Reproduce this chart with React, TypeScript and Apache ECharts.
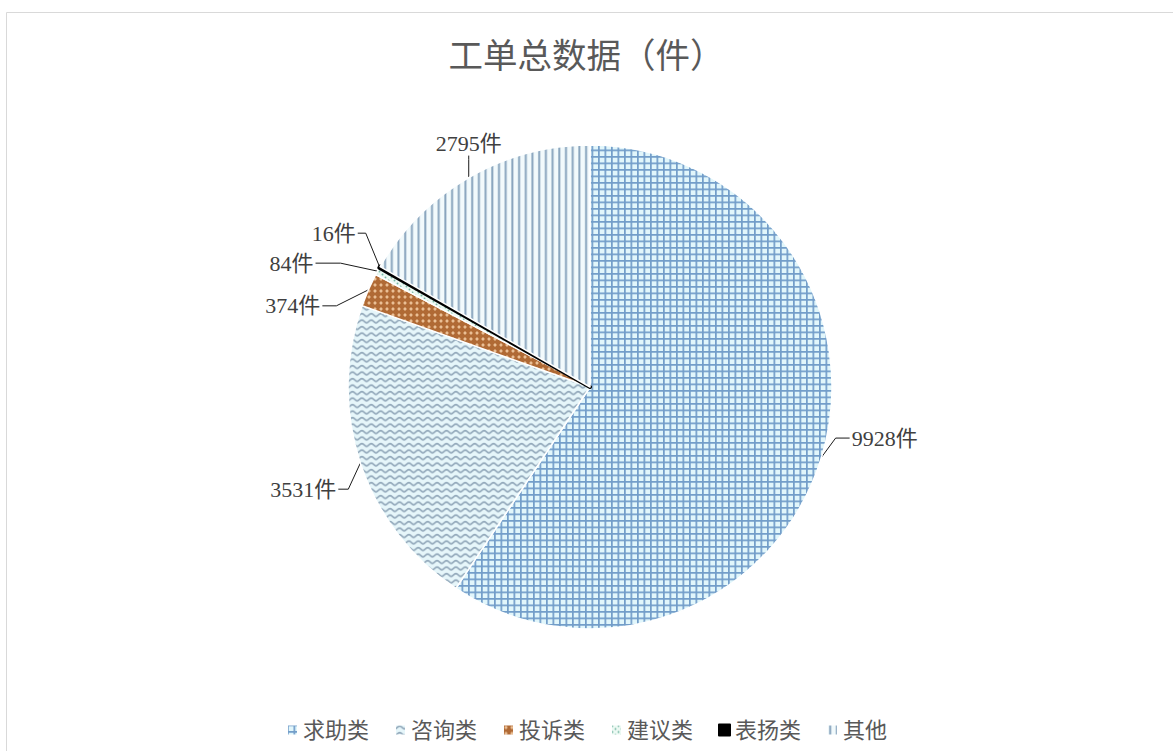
import React, { useEffect, useRef } from 'react';
import * as echarts from 'echarts';

const categories = ['求助类', '咨询类', '投诉类', '建议类', '表扬类', '其他'];
const values = [9928, 3531, 374, 84, 16, 2795];
const unit = '件';
const titleText = '工单总数据（件）';

const fontFamily = '"Liberation Serif", "Noto Sans CJK SC", serif';

const pieCenter = [590, 387];
const pieRadius = 242;

// label leader geometry: [elbowDx, elbowDy, endDx, endDy, side]
const labelGuides: [number, number, number, number, string][] = [
  [14, -19, 28, -19, 'right'],
  [-12, 26, -22, 26, 'left'],
  [-32, 16, -46, 16, 'left'],
  [-37, -8, -62, -8, 'left'],
  [-14, -34, -22, -34, 'left'],
  [0, -18, 0, -22, 'top'],
];

function tile(w: number, h: number, bg: string, inner: string) {
  const svg = `<svg xmlns="http://www.w3.org/2000/svg" width="${w}" height="${h}" viewBox="0 0 ${w} ${h}"><rect x="0" y="0" width="${w}" height="${h}" fill="${bg}"/>${inner}</svg>`;
  return {
    image: 'data:image/svg+xml;charset=utf-8,' + encodeURIComponent(svg),
    repeat: 'repeat',
    imageWidth: w,
    imageHeight: h,
  } as any;
}

const patterns = [
  // grid
  tile(6.5, 6.5, '#e1f6fb',
    '<rect x="0" y="0" width="1.7" height="6.5" fill="#729dc9"/><rect x="0" y="0" width="6.5" height="1.7" fill="#729dc9"/>'),
  // wave
  tile(9.4, 6.5, '#e6f6fa',
    '<path d="M-0.5 4.5 C1.8 4.5 2.4 1.6 4.7 1.6 C7 1.6 7.6 4.5 9.9 4.5" fill="none" stroke="#93a9bb" stroke-width="1.7"/>'),
  // diamond checker
  tile(6, 6, '#b06a35',
    '<polygon points="3,1.1 4.9,3 3,4.9 1.1,3" fill="#eabf95"/>'),
  // dots
  tile(6, 6, '#ecf9f3',
    '<circle cx="1.5" cy="1.5" r="0.95" fill="#77b8a5"/><circle cx="4.5" cy="4.5" r="0.95" fill="#77b8a5"/>'),
  '#000000',
  // vertical stripes
  tile(6.7, 6.7, '#f2fafc',
    '<rect x="2.2" y="0" width="2" height="6.7" fill="#88a4bd"/>'),
];

export default function App() {
  const ref = useRef<HTMLDivElement>(null);
  useEffect(() => {
    if (!ref.current) return;
    const chart = echarts.init(ref.current, null, { renderer: 'svg' });
    const total = values.reduce((a, b) => a + b, 0);
    const midAngles: number[] = [];
    let acc = 0;
    values.forEach((v) => {
      midAngles.push(((acc + v / 2) / total) * 2 * Math.PI);
      acc += v;
    });
    const data = categories.map((name, i) => ({
      name,
      value: values[i],
      itemStyle:
        i === 4
          ? { color: patterns[i], borderColor: '#000', borderWidth: 4 }
          : { color: patterns[i] },
    }));
    chart.setOption({
      animation: false,
      title: {
        text: titleText,
        left: 'center',
        top: 34,
        textStyle: { fontSize: 34.5, fontWeight: 'normal', color: '#595959', fontFamily },
      },
      legend: {
        top: 714,
        left: 'center',
        icon: 'rect',
        itemWidth: 11,
        itemHeight: 11,
        itemGap: 25,
        textStyle: { fontSize: 22, color: '#595959', fontFamily },
        data: categories,
      },
      graphic: [
        {
          type: 'rect',
          silent: true,
          z: -10,
          shape: { x: 6.5, y: 12.5, width: 1200, height: 800 },
          style: { fill: 'none', stroke: '#d9d9d9', lineWidth: 1 },
        },
      ],
      series: [
        {
          type: 'pie',
          center: pieCenter,
          radius: pieRadius,
          startAngle: 90,
          clockwise: true,
          data,
          itemStyle: { borderColor: '#ffffff', borderWidth: 1.5 },
          label: {
            show: true,
            position: 'outside',
            formatter: (p: any) => p.value + unit,
            fontSize: 22,
            color: '#404040',
            fontFamily,
          },
          labelLine: {
            show: true,
            length: 14,
            length2: 14,
            lineStyle: { color: '#1a1a1a', width: 1 },
          },
          labelLayout: (params: any) => {
            const i = params.dataIndex;
            const a = midAngles[i];
            const ex = pieCenter[0] + pieRadius * Math.sin(a);
            const ey = pieCenter[1] - pieRadius * Math.cos(a);
            const g = labelGuides[i];
            const bx = ex + g[0];
            const by = ey + g[1];
            const cx = ex + g[2];
            const cy = ey + g[3];
            const side = g[4];
            if (side === 'top') {
              return {
                x: cx,
                y: cy - 1,
                align: 'center',
                verticalAlign: 'bottom',
                labelLinePoints: [[ex, ey], [bx, by], [cx, cy]],
              };
            }
            return {
              x: side === 'right' ? cx + 2 : cx - 2,
              y: cy,
              align: side === 'right' ? 'left' : 'right',
              verticalAlign: 'middle',
              labelLinePoints: [[ex, ey], [bx, by], [cx, cy]],
            };
          },
          emphasis: { disabled: true },
        },
      ],
    });
    return () => chart.dispose();
  }, []);
  return (
    <div
      ref={ref}
      style={{ position: 'fixed', left: 0, top: 0, width: 1173, height: 751, background: '#fff' }}
    />
  );
}
